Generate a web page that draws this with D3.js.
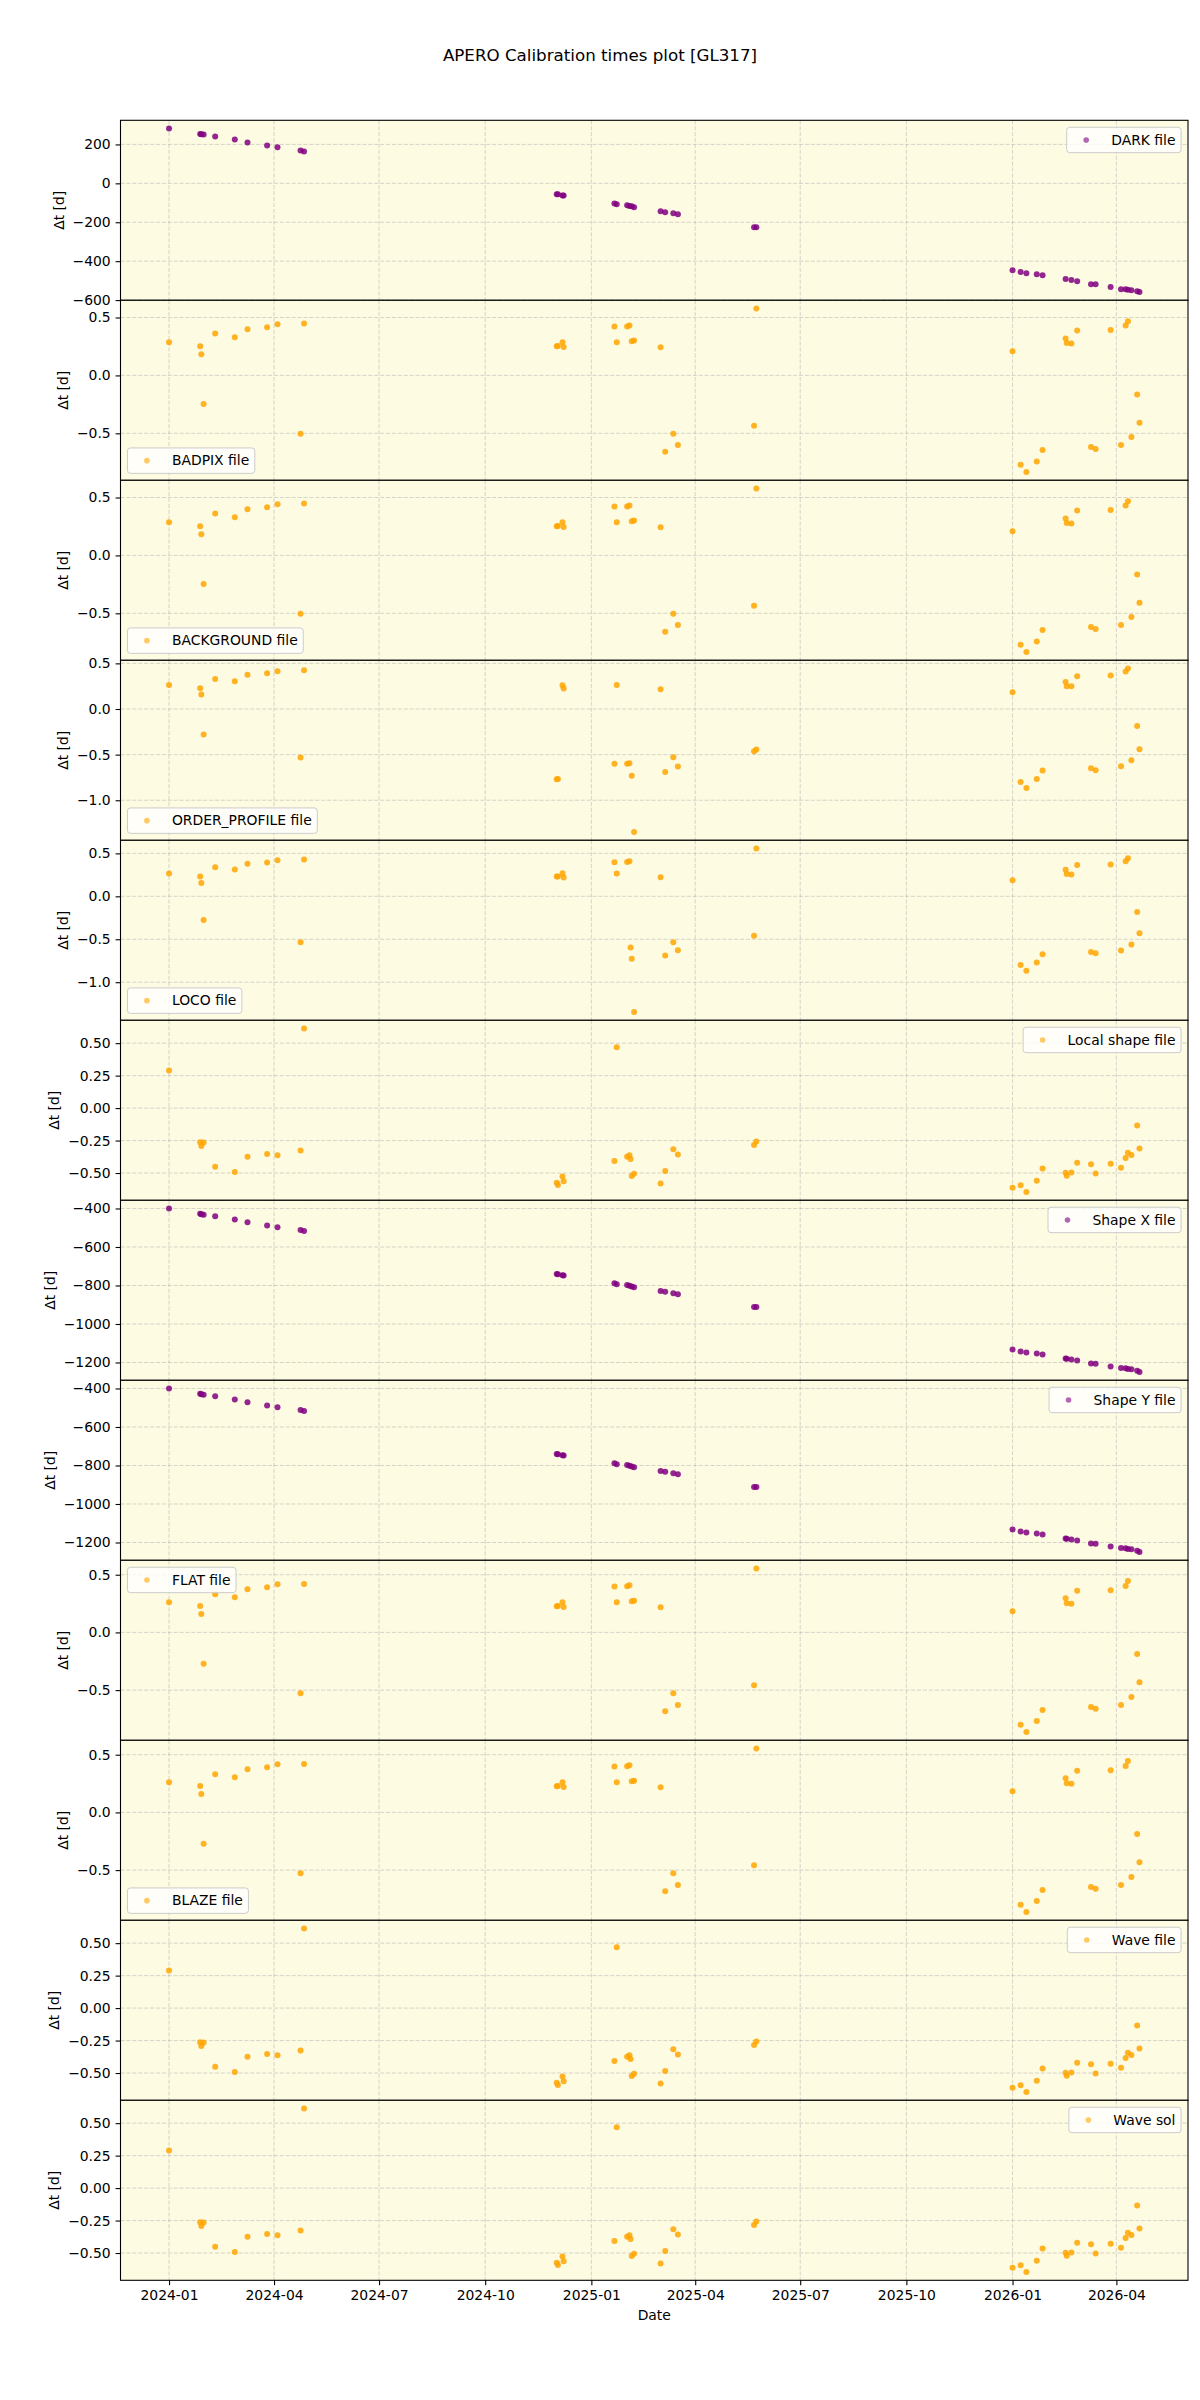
<!DOCTYPE html>
<html>
<head>
<meta charset="utf-8">
<script src="https://cdn.jsdelivr.net/npm/d3@7"></script>
<style>
  body { margin: 0; background: #fff; }
  svg { display: block; font-family: "DejaVu Sans", sans-serif; }
</style>
</head>
<body>
<div id="chart"></div>
<script>
/* APERO calibration times plot, one panel per calibration file */

const darkData = [
  ["2024-01-01", 282], ["2024-01-28", 253], ["2024-01-29", 252], ["2024-01-31", 251],
  ["2024-02-10", 241], ["2024-02-27", 226], ["2024-03-09", 210], ["2024-03-26", 195],
  ["2024-04-04", 185], ["2024-04-24", 169], ["2024-04-27", 164],
  ["2024-12-02", -56], ["2024-12-03", -56], ["2024-12-07", -62], ["2024-12-08", -63],
  ["2025-01-21", -103], ["2025-01-23", -108], ["2025-02-01", -113], ["2025-02-03", -116],
  ["2025-02-05", -118], ["2025-02-07", -123], ["2025-03-02", -144], ["2025-03-06", -149],
  ["2025-03-13", -154], ["2025-03-17", -159], ["2025-05-22", -226], ["2025-05-24", -226],
  ["2026-01-01", -446], ["2026-01-08", -456], ["2026-01-13", -462], ["2026-01-22", -467],
  ["2026-01-27", -472], ["2026-02-16", -492], ["2026-02-21", -497], ["2026-02-26", -503],
  ["2026-03-10", -518], ["2026-03-14", -518], ["2026-03-27", -533], ["2026-04-05", -544],
  ["2026-04-09", -544], ["2026-04-11", -547], ["2026-04-14", -549], ["2026-04-19", -554],
  ["2026-04-21", -559]
];

const badpixData = [
  ["2024-01-01", 0.286], ["2024-01-28", 0.251], ["2024-01-29", 0.182], ["2024-01-31", -0.246],
  ["2024-02-10", 0.361], ["2024-02-27", 0.329], ["2024-03-09", 0.399], ["2024-03-26", 0.416],
  ["2024-04-04", 0.442], ["2024-04-24", -0.503], ["2024-04-27", 0.448],
  ["2024-12-02", 0.251], ["2024-12-03", 0.254], ["2024-12-07", 0.286], ["2024-12-08", 0.246],
  ["2025-01-21", 0.422], ["2025-01-23", 0.286], ["2025-02-01", 0.422], ["2025-02-03", 0.431],
  ["2025-02-05", 0.295], ["2025-02-07", 0.301], ["2025-03-02", 0.243], ["2025-03-06", -0.659],
  ["2025-03-13", -0.503], ["2025-03-17", -0.601], ["2025-05-22", -0.434], ["2025-05-24", 0.578],
  ["2026-01-01", 0.208], ["2026-01-08", -0.772], ["2026-01-13", -0.835], ["2026-01-22", -0.743],
  ["2026-01-27", -0.645], ["2026-02-16", 0.318], ["2026-02-17", 0.280], ["2026-02-21", 0.275],
  ["2026-02-26", 0.387], ["2026-03-10", -0.618], ["2026-03-14", -0.636], ["2026-03-27", 0.393],
  ["2026-04-05", -0.601], ["2026-04-09", 0.431], ["2026-04-11", 0.468], ["2026-04-14", -0.532],
  ["2026-04-19", -0.165], ["2026-04-21", -0.408]
];

const orderProfileData = [
  ["2024-01-01", 0.264], ["2024-01-28", 0.227], ["2024-01-29", 0.158], ["2024-01-31", -0.279],
  ["2024-02-10", 0.330], ["2024-02-27", 0.304], ["2024-03-09", 0.374], ["2024-03-26", 0.392],
  ["2024-04-04", 0.414], ["2024-04-24", -0.532], ["2024-04-27", 0.425],
  ["2024-12-02", -0.770], ["2024-12-03", -0.766], ["2024-12-07", 0.260], ["2024-12-08", 0.224],
  ["2025-01-21", -0.601], ["2025-01-23", 0.264], ["2025-02-01", -0.601], ["2025-02-03", -0.594],
  ["2025-02-05", -0.730], ["2025-02-07", -1.349], ["2025-03-02", 0.216], ["2025-03-06", -0.689],
  ["2025-03-13", -0.528], ["2025-03-17", -0.631], ["2025-05-22", -0.462], ["2025-05-24", -0.444],
  ["2026-01-01", 0.183], ["2026-01-08", -0.799], ["2026-01-13", -0.865], ["2026-01-22", -0.766],
  ["2026-01-27", -0.675], ["2026-02-16", 0.297], ["2026-02-17", 0.249], ["2026-02-21", 0.249],
  ["2026-02-26", 0.359], ["2026-03-10", -0.649], ["2026-03-14", -0.671], ["2026-03-27", 0.367],
  ["2026-04-05", -0.627], ["2026-04-09", 0.411], ["2026-04-11", 0.444], ["2026-04-14", -0.561],
  ["2026-04-19", -0.187], ["2026-04-21", -0.440]
];

const locoData = [
  ["2024-01-01", 0.265], ["2024-01-28", 0.230], ["2024-01-29", 0.156], ["2024-01-31", -0.277],
  ["2024-02-10", 0.339], ["2024-02-27", 0.312], ["2024-03-09", 0.378], ["2024-03-26", 0.393],
  ["2024-04-04", 0.421], ["2024-04-24", -0.534], ["2024-04-27", 0.429],
  ["2024-12-02", 0.230], ["2024-12-03", 0.232], ["2024-12-07", 0.269], ["2024-12-08", 0.218],
  ["2025-01-21", 0.397], ["2025-01-23", 0.265], ["2025-02-01", 0.401], ["2025-02-03", 0.409],
  ["2025-02-04", -0.596], ["2025-02-05", -0.728], ["2025-02-07", -1.348], ["2025-03-02", 0.222],
  ["2025-03-06", -0.690], ["2025-03-13", -0.534], ["2025-03-17", -0.627], ["2025-05-22", -0.460],
  ["2025-05-24", 0.557], ["2026-01-01", 0.187], ["2026-01-08", -0.799], ["2026-01-13", -0.865],
  ["2026-01-22", -0.771], ["2026-01-27", -0.674], ["2026-02-16", 0.308], ["2026-02-17", 0.261],
  ["2026-02-21", 0.253], ["2026-02-26", 0.366], ["2026-03-10", -0.647], ["2026-03-14", -0.662],
  ["2026-03-27", 0.370], ["2026-04-05", -0.631], ["2026-04-09", 0.409], ["2026-04-11", 0.444],
  ["2026-04-14", -0.561], ["2026-04-19", -0.183], ["2026-04-21", -0.429]
];

// local shape / wave file / wave sol share the same offsets
const localShapeData = [
  ["2024-01-01", 0.289], ["2024-01-28", -0.263], ["2024-01-29", -0.291], ["2024-01-31", -0.265],
  ["2024-02-10", -0.451], ["2024-02-27", -0.492], ["2024-03-09", -0.374], ["2024-03-26", -0.353],
  ["2024-04-04", -0.363], ["2024-04-24", -0.327], ["2024-04-27", 0.613],
  ["2024-12-02", -0.575], ["2024-12-03", -0.593], ["2024-12-07", -0.526], ["2024-12-08", -0.564],
  ["2025-01-21", -0.407], ["2025-01-23", 0.469], ["2025-02-01", -0.374], ["2025-02-03", -0.363],
  ["2025-02-04", -0.392], ["2025-02-05", -0.523], ["2025-02-07", -0.505], ["2025-03-02", -0.580],
  ["2025-03-06", -0.485], ["2025-03-13", -0.317], ["2025-03-17", -0.358], ["2025-05-22", -0.284],
  ["2025-05-24", -0.258], ["2026-01-01", -0.613], ["2026-01-08", -0.595], ["2026-01-13", -0.647],
  ["2026-01-22", -0.559], ["2026-01-27", -0.466], ["2026-02-16", -0.497], ["2026-02-17", -0.521],
  ["2026-02-21", -0.495], ["2026-02-26", -0.420], ["2026-03-10", -0.433], ["2026-03-14", -0.503],
  ["2026-03-27", -0.428], ["2026-04-05", -0.459], ["2026-04-09", -0.384], ["2026-04-11", -0.343],
  ["2026-04-14", -0.361], ["2026-04-19", -0.134], ["2026-04-21", -0.312]
];

const shapeData = [
  ["2024-01-01", -400], ["2024-01-28", -428], ["2024-01-29", -430], ["2024-01-31", -432],
  ["2024-02-10", -441], ["2024-02-27", -457], ["2024-03-09", -472], ["2024-03-26", -488],
  ["2024-04-04", -498], ["2024-04-24", -512], ["2024-04-27", -517],
  ["2024-12-02", -740], ["2024-12-03", -741], ["2024-12-07", -747], ["2024-12-08", -748],
  ["2025-01-21", -788], ["2025-01-23", -793], ["2025-02-01", -797], ["2025-02-03", -802],
  ["2025-02-05", -805], ["2025-02-07", -809], ["2025-03-02", -828], ["2025-03-06", -833],
  ["2025-03-13", -840], ["2025-03-17", -845], ["2025-05-22", -912], ["2025-05-24", -912],
  ["2026-01-01", -1133], ["2026-01-08", -1143], ["2026-01-13", -1148], ["2026-01-22", -1153],
  ["2026-01-27", -1159], ["2026-02-16", -1179], ["2026-02-17", -1181], ["2026-02-21", -1184],
  ["2026-02-26", -1190], ["2026-03-10", -1205], ["2026-03-14", -1206], ["2026-03-27", -1221],
  ["2026-04-05", -1229], ["2026-04-09", -1230], ["2026-04-11", -1234], ["2026-04-14", -1235],
  ["2026-04-19", -1243], ["2026-04-21", -1250]
];

const flatData = [
  ["2024-01-01", 0.261], ["2024-01-28", 0.229], ["2024-01-29", 0.159], ["2024-01-31", -0.272],
  ["2024-02-10", 0.330], ["2024-02-27", 0.304], ["2024-03-09", 0.374], ["2024-03-26", 0.391],
  ["2024-04-04", 0.417], ["2024-04-24", -0.528], ["2024-04-27", 0.420],
  ["2024-12-02", 0.226], ["2024-12-03", 0.229], ["2024-12-07", 0.261], ["2024-12-08", 0.220],
  ["2025-01-21", 0.397], ["2025-01-23", 0.261], ["2025-02-01", 0.400], ["2025-02-03", 0.409],
  ["2025-02-05", 0.270], ["2025-02-07", 0.275], ["2025-03-02", 0.217], ["2025-03-06", -0.684],
  ["2025-03-13", -0.528], ["2025-03-17", -0.629], ["2025-05-22", -0.458], ["2025-05-24", 0.554],
  ["2026-01-01", 0.183], ["2026-01-08", -0.800], ["2026-01-13", -0.864], ["2026-01-22", -0.768],
  ["2026-01-27", -0.672], ["2026-02-16", 0.296], ["2026-02-17", 0.252], ["2026-02-21", 0.249],
  ["2026-02-26", 0.362], ["2026-03-10", -0.646], ["2026-03-14", -0.661], ["2026-03-27", 0.365],
  ["2026-04-05", -0.629], ["2026-04-09", 0.403], ["2026-04-11", 0.446], ["2026-04-14", -0.559],
  ["2026-04-19", -0.188], ["2026-04-21", -0.432]
];

// y tick values per panel type
const darkTicks = [-600, -400, -200, 0, 200];
const halfTicks = [-0.5, 0.0, 0.5];
const oneTicks = [-1.0, -0.5, 0.0, 0.5];
const quarterTicks = [-0.5, -0.25, 0.0, 0.25, 0.5];
const shapeTicks = [-1200, -1000, -800, -600, -400];

const panels = [
  { label: "DARK file", data: darkData, color: "purple", ticks: darkTicks, fmt: "d", legend: "ur" },
  { label: "BADPIX file", data: badpixData, color: "orange", ticks: halfTicks, fmt: ".1f", legend: "ll" },
  { label: "BACKGROUND file", data: badpixData, color: "orange", ticks: halfTicks, fmt: ".1f", legend: "ll" },
  { label: "ORDER_PROFILE file", data: orderProfileData, color: "orange", ticks: oneTicks, fmt: ".1f", legend: "ll" },
  { label: "LOCO file", data: locoData, color: "orange", ticks: oneTicks, fmt: ".1f", legend: "ll" },
  { label: "Local shape file", data: localShapeData, color: "orange", ticks: quarterTicks, fmt: ".2f", legend: "ur" },
  { label: "Shape X file", data: shapeData, color: "purple", ticks: shapeTicks, fmt: "d", legend: "ur" },
  { label: "Shape Y file", data: shapeData, color: "purple", ticks: shapeTicks, fmt: "d", legend: "ur" },
  { label: "FLAT file", data: flatData, color: "orange", ticks: halfTicks, fmt: ".1f", legend: "ul" },
  { label: "BLAZE file", data: flatData, color: "orange", ticks: halfTicks, fmt: ".1f", legend: "ll" },
  { label: "Wave file", data: localShapeData, color: "orange", ticks: quarterTicks, fmt: ".2f", legend: "ur" },
  { label: "Wave sol", data: localShapeData, color: "orange", ticks: quarterTicks, fmt: ".2f", legend: "ur" }
];

// page layout
const width = 1200, height = 2400,
    margin = ({ top: 120.3, right: 12, left: 120.5 }),
    panelH = 180,
    fs = 13.9,           // 10pt at 100 dpi
    bg = "#fdfbe2";

const parse = d3.utcParse("%Y-%m-%d");

let svg = d3.select("#chart")
    .append("svg")
    .attr("width", width)
    .attr("height", height)
    .attr("viewBox", [0, 0, width, height]);

svg.append("rect").attr("width", width).attr("height", height).attr("fill", "#fff");

// shared time axis, padded by 5% like matplotlib
let allDates = panels.flatMap(p => p.data.map(d => parse(d[0])));
let [dMin, dMax] = d3.extent(allDates);
let span = dMax - dMin;
let x = d3.scaleUtc()
    .domain([new Date(+dMin - span * 0.05), new Date(+dMax + span * 0.05)])
    .range([margin.left, width - margin.right]);

let monthTicks = d3.utcMonth.every(3).range(parse("2024-01-01"), parse("2026-05-01"));

// title
svg.append("text")
    .attr("x", width / 2)
    .attr("y", 61)
    .attr("text-anchor", "middle")
    .attr("font-size", 16.7)
    .text("APERO Calibration times plot [GL317]");

panels.forEach((p, i) => {
    let top = margin.top + i * panelH,
        bottom = top + panelH;
    let g = svg.append("g");

    let vals = p.data.map(d => d[1]);
    let [vMin, vMax] = d3.extent(vals);
    let pad = (vMax - vMin) * 0.05;
    let y = d3.scaleLinear()
        .domain([vMin - pad, vMax + pad])
        .range([bottom, top]);

    // panel background
    g.append("rect")
        .attr("x", margin.left).attr("y", top)
        .attr("width", width - margin.right - margin.left)
        .attr("height", panelH)
        .attr("fill", bg);

    // dashed grid
    g.append("g").selectAll("line")
        .data(monthTicks)
        .join("line")
        .attr("x1", d => x(d)).attr("x2", d => x(d))
        .attr("y1", top).attr("y2", bottom);
    g.append("g").selectAll("line")
        .data(p.ticks)
        .join("line")
        .attr("x1", margin.left).attr("x2", width - margin.right)
        .attr("y1", d => y(d)).attr("y2", d => y(d));
    g.selectAll("line")
        .attr("stroke", "#b0b0b0")
        .attr("stroke-opacity", 0.5)
        .attr("stroke-width", 1)
        .attr("stroke-dasharray", "4.1,1.8");

    // points
    g.append("g").selectAll("circle")
        .data(p.data)
        .join("circle")
        .attr("cx", d => x(parse(d[0])))
        .attr("cy", d => y(d[1]))
        .attr("r", 3)
        .attr("fill", p.color)
        .attr("fill-opacity", 0.85);

    // frame
    g.append("rect")
        .attr("x", margin.left).attr("y", top)
        .attr("width", width - margin.right - margin.left)
        .attr("height", panelH)
        .attr("fill", "none")
        .attr("stroke", "#000")
        .attr("stroke-width", 1.1);

    // y axis
    let yAxis = g.append("g")
        .attr("transform", `translate(${margin.left},0)`)
        .call(d3.axisLeft(y).tickValues(p.ticks).tickFormat(d3.format(p.fmt))
            .tickSize(4.9).tickPadding(4.9));
    yAxis.select(".domain").remove();
    yAxis.attr("font-family", null).attr("font-size", fs);
    yAxis.selectAll("line").attr("stroke", "#000").attr("stroke-width", 1.1);
    yAxis.selectAll("text").attr("fill", "#000");

    // y label sits left of the widest tick label
    let maxW = d3.max(yAxis.selectAll("text").nodes(), n => n.getComputedTextLength());
    let labelX = margin.left - 9.8 - maxW - 5.6 - 3.3;
    g.append("text")
        .attr("transform", `translate(${labelX},${(top + bottom) / 2}) rotate(-90)`)
        .attr("text-anchor", "middle")
        .attr("font-size", fs)
        .text("Δt [d]");

    // legend box
    let lg = g.append("g");
    let lt = lg.append("text")
        .attr("font-size", fs)
        .text(p.label);
    let tw = lt.node().getComputedTextLength();
    let lw = 5.56 + 27.8 + 11.1 + tw + 5.56,
        lh = 25.4;
    let lx = p.legend[1] === "r" ? width - margin.right - 6.95 - lw : margin.left + 6.95;
    let ly = p.legend[0] === "u" ? top + 6.95 : bottom - 6.95 - lh;
    lg.insert("rect", "text")
        .attr("x", lx).attr("y", ly)
        .attr("width", lw).attr("height", lh)
        .attr("rx", 3)
        .attr("fill", "#fff").attr("fill-opacity", 0.8)
        .attr("stroke", "#cccccc").attr("stroke-width", 1);
    lg.append("circle")
        .attr("cx", lx + 5.56 + 13.9)
        .attr("cy", ly + lh / 2)
        .attr("r", 2.8)
        .attr("fill", p.color)
        .attr("fill-opacity", 0.6);
    lt.attr("x", lx + 5.56 + 27.8 + 11.1)
        .attr("y", ly + lh / 2)
        .attr("dy", "0.33em");

    // date axis only under the last panel
    if (i === panels.length - 1) {
        let xAxis = g.append("g")
            .attr("transform", `translate(0,${bottom})`)
            .call(d3.axisBottom(x).tickValues(monthTicks).tickFormat(d3.utcFormat("%Y-%m"))
                .tickSize(4.9).tickPadding(4.9));
        xAxis.select(".domain").remove();
        xAxis.attr("font-family", null).attr("font-size", fs);
        xAxis.selectAll("line").attr("stroke", "#000").attr("stroke-width", 1.1);
        xAxis.selectAll("text").attr("fill", "#000");

        g.append("text")
            .attr("x", (margin.left + width - margin.right) / 2)
            .attr("y", 2320)
            .attr("text-anchor", "middle")
            .attr("font-size", fs)
            .text("Date");
    }
});
</script>
</body>
</html>
